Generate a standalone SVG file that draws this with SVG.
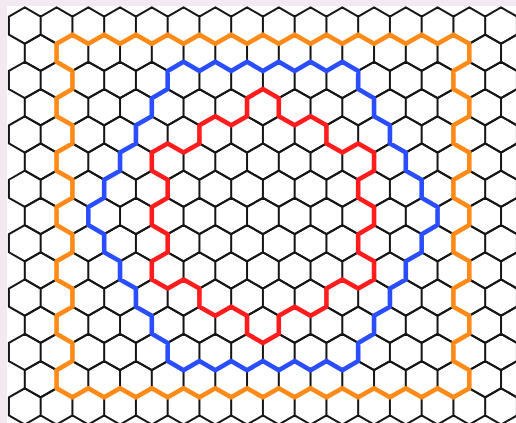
<svg xmlns="http://www.w3.org/2000/svg" xmlns:xlink="http://www.w3.org/1999/xlink" width="516" height="423" viewBox="0 0 516 423">
  <style>
    .hex { fill: none; stroke: #151515; stroke-width: 2; stroke-linejoin: miter; }
    .loop { fill: none; stroke-width: 4.6; stroke-linejoin: round; stroke-linecap: round; }
    .orange { stroke: #ff8a17; }
    .blue { stroke: #2a4dff; }
    .red { stroke: #ff1c1c; }
  </style>
  <defs>
    <path id="hexrow" d="M0,-18.133 l15.875,9.067 v18.133 l-15.875,9.067 -15.875,-9.067 v-18.133 z
      m31.75,0 l15.875,9.067 v18.133 l-15.875,9.067 -15.875,-9.067 v-18.133 z
      m31.75,0 l15.875,9.067 v18.133 l-15.875,9.067 -15.875,-9.067 v-18.133 z
      m31.75,0 l15.875,9.067 v18.133 l-15.875,9.067 -15.875,-9.067 v-18.133 z
      m31.75,0 l15.875,9.067 v18.133 l-15.875,9.067 -15.875,-9.067 v-18.133 z
      m31.75,0 l15.875,9.067 v18.133 l-15.875,9.067 -15.875,-9.067 v-18.133 z
      m31.75,0 l15.875,9.067 v18.133 l-15.875,9.067 -15.875,-9.067 v-18.133 z
      m31.75,0 l15.875,9.067 v18.133 l-15.875,9.067 -15.875,-9.067 v-18.133 z
      m31.75,0 l15.875,9.067 v18.133 l-15.875,9.067 -15.875,-9.067 v-18.133 z
      m31.75,0 l15.875,9.067 v18.133 l-15.875,9.067 -15.875,-9.067 v-18.133 z
      m31.75,0 l15.875,9.067 v18.133 l-15.875,9.067 -15.875,-9.067 v-18.133 z
      m31.75,0 l15.875,9.067 v18.133 l-15.875,9.067 -15.875,-9.067 v-18.133 z
      m31.75,0 l15.875,9.067 v18.133 l-15.875,9.067 -15.875,-9.067 v-18.133 z
      m31.75,0 l15.875,9.067 v18.133 l-15.875,9.067 -15.875,-9.067 v-18.133 z
      m31.75,0 l15.875,9.067 v18.133 l-15.875,9.067 -15.875,-9.067 v-18.133 z
      m31.75,0 l15.875,9.067 v18.133 l-15.875,9.067 -15.875,-9.067 v-18.133 z"/>
  </defs>
  <rect x="0" y="0" width="516" height="423" fill="#f3e9f0"/>
  <rect x="7" y="6" width="509" height="417" fill="#ffffff"/>
  <g id="grid" class="hex">
    <use href="#hexrow" xlink:href="#hexrow" x="24.8" y="25.6"/>
    <use href="#hexrow" xlink:href="#hexrow" x="40.675" y="52.8"/>
    <use href="#hexrow" xlink:href="#hexrow" x="24.8" y="80"/>
    <use href="#hexrow" xlink:href="#hexrow" x="40.675" y="107.2"/>
    <use href="#hexrow" xlink:href="#hexrow" x="24.8" y="134.4"/>
    <use href="#hexrow" xlink:href="#hexrow" x="40.675" y="161.6"/>
    <use href="#hexrow" xlink:href="#hexrow" x="24.8" y="188.8"/>
    <use href="#hexrow" xlink:href="#hexrow" x="40.675" y="216"/>
    <use href="#hexrow" xlink:href="#hexrow" x="24.8" y="243.2"/>
    <use href="#hexrow" xlink:href="#hexrow" x="40.675" y="270.4"/>
    <use href="#hexrow" xlink:href="#hexrow" x="24.8" y="297.6"/>
    <use href="#hexrow" xlink:href="#hexrow" x="40.675" y="324.8"/>
    <use href="#hexrow" xlink:href="#hexrow" x="24.8" y="352"/>
    <use href="#hexrow" xlink:href="#hexrow" x="40.675" y="379.2"/>
    <use href="#hexrow" xlink:href="#hexrow" x="24.8" y="406.4"/>
  </g>
  <g id="loops">
    <path id="orange-loop" class="loop orange" d="M56.55,43.733
      l15.875,-9.067 15.875,9.067 15.875,-9.067 15.875,9.067 15.875,-9.067 15.875,9.067 15.875,-9.067 15.875,9.067
       15.875,-9.067 15.875,9.067 15.875,-9.067 15.875,9.067 15.875,-9.067 15.875,9.067 15.875,-9.067 15.875,9.067
       15.875,-9.067 15.875,9.067 15.875,-9.067 15.875,9.067 15.875,-9.067 15.875,9.067 15.875,-9.067 15.875,9.067
       15.875,-9.067 15.875,9.067
      v18.133
      l-15.875,9.067 v18.133 l15.875,9.067 v18.133
      l-15.875,9.067 v18.133 l15.875,9.067 v18.133
      l-15.875,9.067 v18.133 l15.875,9.067 v18.133
      l-15.875,9.067 v18.133 l15.875,9.067 v18.133
      l-15.875,9.067 v18.133 l15.875,9.067 v18.133
      l-15.875,9.067 v18.133 l15.875,9.067 v18.133
      l-15.875,9.067 -15.875,-9.067 -15.875,9.067 -15.875,-9.067 -15.875,9.067 -15.875,-9.067 -15.875,9.067 -15.875,-9.067
       -15.875,9.067 -15.875,-9.067 -15.875,9.067 -15.875,-9.067 -15.875,9.067 -15.875,-9.067 -15.875,9.067 -15.875,-9.067
       -15.875,9.067 -15.875,-9.067 -15.875,9.067 -15.875,-9.067 -15.875,9.067 -15.875,-9.067 -15.875,9.067 -15.875,-9.067
       -15.875,9.067 -15.875,-9.067
      v-18.133
      l15.875,-9.067 v-18.133 l-15.875,-9.067 v-18.133
      l15.875,-9.067 v-18.133 l-15.875,-9.067 v-18.133
      l15.875,-9.067 v-18.133 l-15.875,-9.067 v-18.133
      l15.875,-9.067 v-18.133 l-15.875,-9.067 v-18.133
      l15.875,-9.067 v-18.133 l-15.875,-9.067 v-18.133
      l15.875,-9.067 v-18.133 l-15.875,-9.067 v-18.133 z"/>
    <path id="blue-loop" class="loop blue" d="M167.675,70.933
      l15.875,-9.067 15.875,9.067 15.875,-9.067 15.875,9.067 15.875,-9.067 15.875,9.067
       15.875,-9.067 15.875,9.067 15.875,-9.067 15.875,9.067 15.875,-9.067 15.875,9.067
      v18.133
      l15.875,9.067 v18.133 l15.875,9.067 v18.133 l15.875,9.067 v18.133 l15.875,9.067 v18.133 l15.875,9.067 v18.133
      l-15.875,9.067 v18.133 l-15.875,9.067 v18.133 l-15.875,9.067 v18.133 l-15.875,9.067 v18.133 l-15.875,9.067 v18.133
      l-15.875,9.067 -15.875,-9.067 -15.875,9.067 -15.875,-9.067 -15.875,9.067 -15.875,-9.067
       -15.875,9.067 -15.875,-9.067 -15.875,9.067 -15.875,-9.067 -15.875,9.067 -15.875,-9.067
      v-18.133
      l-15.875,-9.067 v-18.133 l-15.875,-9.067 v-18.133 l-15.875,-9.067 v-18.133 l-15.875,-9.067 v-18.133 l-15.875,-9.067 v-18.133
      l15.875,-9.067 v-18.133 l15.875,-9.067 v-18.133 l15.875,-9.067 v-18.133 l15.875,-9.067 v-18.133 l15.875,-9.067 v-18.133 z"/>
    <path id="red-loop" class="loop red" d="M247.05,98.133 L262.925,89.067 L278.8,98.133 L278.8,116.267 L294.675,125.333 L310.55,116.267 L326.425,125.333 L326.425,143.467 L342.3,152.533 L358.175,143.467 L374.05,152.533 L374.05,170.667 L358.175,179.733 L358.175,197.867 L374.05,206.933 L374.05,225.067 L358.175,234.133 L358.175,252.267 L374.05,261.333 L374.05,279.467 L358.175,288.533 L342.3,279.467 L326.425,288.533 L326.425,306.667 L310.55,315.733 L294.675,306.667 L278.8,315.733 L278.8,333.867 L262.925,342.933 L247.05,333.867 L247.05,315.733 L231.175,306.667 L215.3,315.733 L199.425,306.667 L199.425,288.533 L183.55,279.467 L167.675,288.533 L151.8,279.467 L151.8,261.333 L167.675,252.267 L167.675,234.133 L151.8,225.067 L151.8,206.933 L167.675,197.867 L167.675,179.733 L151.8,170.667 L151.8,152.533 L167.675,143.467 L183.55,152.533 L199.425,143.467 L199.425,125.333 L215.3,116.267 L231.175,125.333 L247.05,116.267 Z"/>
  </g>
</svg>
